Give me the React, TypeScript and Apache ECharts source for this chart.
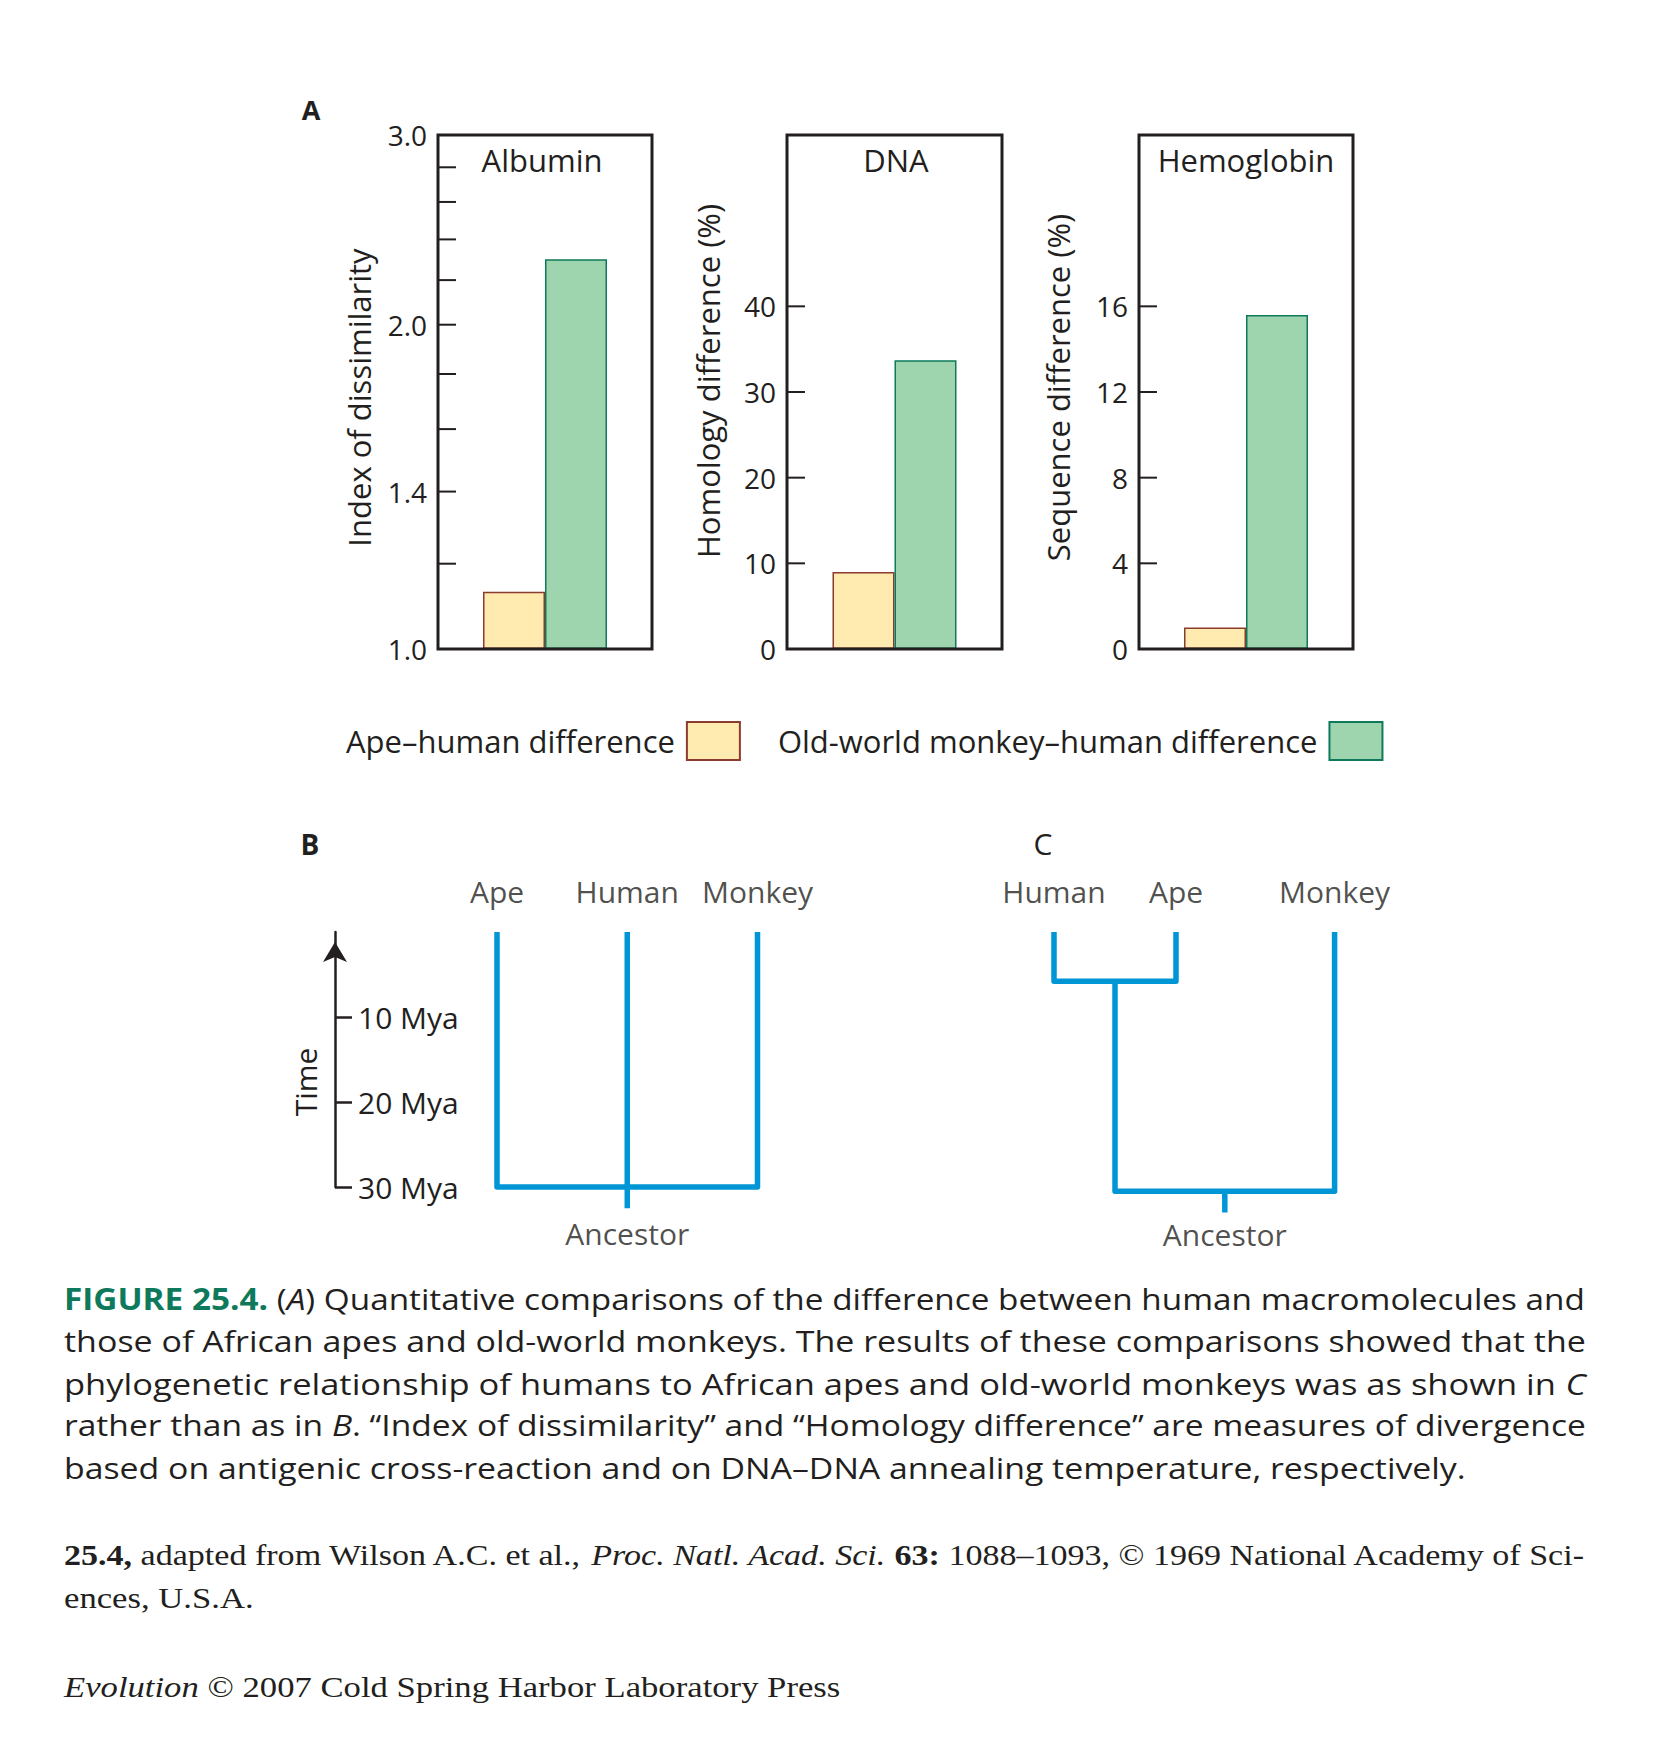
import React, { useEffect, useRef } from 'react';
import * as echarts from 'echarts';

const SANS = '"Open Sans", "DejaVu Sans", sans-serif';
const SERIF = '"Liberation Serif", "DejaVu Serif", serif';
const INK = '#231F20';
const BLUE = '#0096D6';
const FIG_GREEN = '#0E7A5B';
const APE_FILL = '#FFEBB0';
const APE_EDGE = '#8C3B2F';
const MONKEY_FILL = '#9ED4AE';
const MONKEY_EDGE = '#0E7A5B';

// ---------- Panel A: bar data ----------
const panelTitles = ['Albumin', 'DNA', 'Hemoglobin'];
const axisTitles = ['Index of dissimilarity', 'Homology difference (%)', 'Sequence difference (%)'];
const seriesNames = ['Ape–human difference', 'Old-world monkey–human difference'];
const apeHumanValues = [1.13, 9.0, 1.0];
const monkeyHumanValues = [2.3, 33.7, 15.6];
const axisMins = [1, 0, 0];
const axisMaxs = [3, 60, 24];
const albuminTickValues = [1.2, 1.4, 1.6, 1.8, 2.0, 2.2, 2.4, 2.6, 2.8];
const albuminLabelValues = [1.0, 1.4, 2.0, 3.0];
const dnaTickValues = [10, 20, 30, 40];
const dnaLabelValues = [0, 10, 20, 30, 40];
const hemoglobinTickValues = [4, 8, 12, 16];
const hemoglobinLabelValues = [0, 4, 8, 12, 16];

// ---------- Panels B and C: trees (time in Mya) ----------
const timeTickMya = [10, 20, 30];
const treeBLeaves = ['Ape', 'Human', 'Monkey'];
const treeBLeafOrder = [0, 1, 2];
const treeBSplitMya = 30;
const treeBStemEndMya = 32.5;
const treeCLeaves = ['Human', 'Ape', 'Monkey'];
const treeCLeafOrder = [0, 1, 2.3];
const treeCHumanApeSplitMya = 5.8;
const treeCRootSplitMya = 30.5;
const treeCStemEndMya = 33;

// ---------- Caption / credits ----------
type Seg = [string, string];
const captionLines: Seg[][] = [
  [['FIGURE 25.4.', 'fig'], [' (', ''], ['A', 'it'], [') Quantitative comparisons of the difference between human macromolecules and', '']],
  [['those of African apes and old-world monkeys. The results of these comparisons showed that the', '']],
  [['phylogenetic relationship of humans to African apes and old-world monkeys was as shown in ', ''], ['C', 'it']],
  [['rather than as in ', ''], ['B', 'it'], ['. “Index of dissimilarity” and “Homology difference” are measures of divergence', '']],
  [['based on antigenic cross-reaction and on DNA–DNA annealing temperature, respectively.', '']],
];
const footerLines: Seg[][] = [
  [['25.4,', 'b'], [' adapted from Wilson A.C. et al., ', ''], ['Proc. Natl. Acad. Sci.', 'it'], [' ', ''], ['63:', 'b'], [' 1088–1093, © 1969 National Academy of Sci-', '']],
  [['ences, U.S.A.', '']],
  [['Evolution', 'it'], [' © 2007 Cold Spring Harbor Laboratory Press', '']],
];

function measureSegs(ctx: CanvasRenderingContext2D, segs: Seg[], base: any, rich: any) {
  let w = 0;
  for (const [t, k] of segs) {
    const s = k ? rich[k] : base;
    ctx.font = `${s.fontStyle} ${s.fontWeight} ${s.fontSize}px ${s.fontFamily}`;
    w += ctx.measureText(t).width;
  }
  return w;
}
const richString = (segs: Seg[]) => segs.map(([t, k]) => (k ? `{${k}|${t}}` : t)).join('');

function buildOption() {
  const canvas = document.createElement('canvas');
  const ctx = canvas.getContext('2d') as CanvasRenderingContext2D;

  const barGrids = [
    { left: 438, width: 214 },
    { left: 787, width: 215 },
    { left: 1139, width: 214 },
  ];
  const BAR_TOP = 135;
  const BAR_H = 514;
  const nameGaps = [64, 64, 66];
  const namePads = [[0, 11, 0, 0], [0, 0, 0, 22], [0, 0, 0, 9]];
  const titleX = [542, 896, 1246];

  const tickSets = [
    { ticks: albuminTickValues, labels: albuminLabelValues, fmt: (v: number) => v.toFixed(1) },
    { ticks: dnaTickValues, labels: dnaLabelValues, fmt: (v: number) => String(v) },
    { ticks: hemoglobinTickValues, labels: hemoglobinLabelValues, fmt: (v: number) => String(v) },
  ];

  const grids: any[] = barGrids.map((g) => ({
    left: g.left, top: BAR_TOP, width: g.width, height: BAR_H,
    show: true, borderColor: INK, borderWidth: 3, backgroundColor: 'transparent', z: 3,
  }));
  const TREE_TOP = 932;
  const TREE_H = 255;
  grids.push({ left: 497, top: TREE_TOP, width: 260.5, height: TREE_H });
  grids.push({ left: 1054, top: TREE_TOP, width: 280.6, height: TREE_H });

  const xAxes: any[] = panelTitles.map((t, i) => ({
    gridIndex: i, type: 'category', data: [t], show: false,
  }));
  xAxes.push({ gridIndex: 3, type: 'value', min: 0, max: treeBLeafOrder[2], show: false });
  xAxes.push({ gridIndex: 4, type: 'value', min: 0, max: treeCLeafOrder[2], show: false });

  const yAxes: any[] = axisTitles.map((name, i) => ({
    gridIndex: i,
    type: i === 0 ? 'log' : 'value',
    logBase: 10,
    min: axisMins[i],
    max: axisMaxs[i],
    axisLine: { show: false },
    axisTick: { show: false },
    axisLabel: { show: false },
    splitLine: { show: false },
    name,
    nameLocation: 'middle',
    nameRotate: 90,
    nameGap: nameGaps[i],
    nameTextStyle: { fontFamily: SANS, fontSize: 31, color: INK, padding: namePads[i] },
  }));
  const timeVals = timeTickMya.map((t) => -t);
  yAxes.push({
    gridIndex: 3,
    type: 'value',
    min: -30,
    max: 0,
    interval: 10,
    position: 'left',
    offset: 162,
    axisLine: {
      show: true,
      onZero: false,
      lineStyle: { color: INK, width: 2.5 },
      symbol: ['none', 'arrow'],
      symbolSize: [18, 20],
      symbolOffset: [0, -10],
    },
    axisTick: { show: true, inside: true, length: 17, customValues: timeVals, lineStyle: { color: INK, width: 2.5 } },
    axisLabel: {
      show: true, inside: true, margin: 23, customValues: timeVals,
      formatter: (v: number) => (v === 0 ? '' : `${-v} Mya`),
      fontFamily: SANS, fontSize: 30, color: INK,
    },
    splitLine: { show: false },
    name: 'Time',
    nameLocation: 'middle',
    nameRotate: 90,
    nameGap: 15,
    nameTextStyle: { fontFamily: SANS, fontSize: 30, color: INK, padding: [0, 45, 0, 0] },
  });
  yAxes.push({ gridIndex: 4, type: 'value', min: -30, max: 0, show: false });

  const series: any[] = [];
  panelTitles.forEach((_, i) => {
    series.push({
      type: 'bar', name: seriesNames[0], xAxisIndex: i, yAxisIndex: i,
      data: [apeHumanValues[i]], barWidth: 62, barGap: '0%', z: 2,
      itemStyle: { color: APE_FILL, borderColor: APE_EDGE, borderWidth: 1.5 },
    });
    series.push({
      type: 'bar', name: seriesNames[1], xAxisIndex: i, yAxisIndex: i,
      data: [monkeyHumanValues[i]], barWidth: 62, barGap: '0%', z: 2,
      itemStyle: { color: MONKEY_FILL, borderColor: MONKEY_EDGE, borderWidth: 1.5 },
    });
    const set = tickSets[i];
    const rows = [
      ...set.ticks.map((v) => ({ v, text: null as string | null })),
      ...set.labels.map((v) => ({ v, text: set.fmt(v) })),
    ];
    series.push({
      type: 'custom', xAxisIndex: i, yAxisIndex: i, clip: false, silent: true, z: 5,
      data: rows.map((r) => [0, r.v]),
      renderItem: (params: any, api: any) => {
        const r = rows[params.dataIndex];
        const cs = params.coordSys;
        const y = api.coord([0, api.value(1)])[1];
        if (r.text == null) {
          return { type: 'line', shape: { x1: cs.x, y1: y, x2: cs.x + 18, y2: y }, style: { stroke: INK, lineWidth: 2 } };
        }
        return {
          type: 'text', x: cs.x - 11, y,
          style: {
            text: r.text, align: 'right', verticalAlign: 'middle', textAlign: 'right', textVerticalAlign: 'middle',
            fontFamily: SANS, fontSize: 28, fill: INK,
          },
        };
      },
    });
  });

  // ---- Tree B ----
  const [bL, bM, bR] = treeBLeafOrder;
  const bRoot = (bL + bR) / 2;
  const treeBPaths = [
    [[bL, 0], [bL, -treeBSplitMya], [bR, -treeBSplitMya], [bR, 0]],
    [[bM, 0], [bM, -treeBSplitMya]],
    [[bRoot, -treeBSplitMya], [bRoot, -treeBStemEndMya]],
  ];
  // ---- Tree C ----
  const [cH, cA, cM] = treeCLeafOrder;
  const cClade = (cH + cA) / 2;
  const cRoot = (cClade + cM) / 2;
  const treeCPaths = [
    [[cH, 0], [cH, -treeCHumanApeSplitMya], [cA, -treeCHumanApeSplitMya], [cA, 0]],
    [[cClade, -treeCHumanApeSplitMya], [cClade, -treeCRootSplitMya], [cM, -treeCRootSplitMya], [cM, 0]],
    [[cRoot, -treeCRootSplitMya], [cRoot, -treeCStemEndMya]],
  ];
  const treeLine = { color: BLUE, width: 5.5, cap: 'butt', join: 'round', opacity: 1, curveness: 0 };
  [
    { idx: 3, paths: treeBPaths, leaves: treeBLeaves, order: treeBLeafOrder, root: bRoot, stem: treeBStemEndMya, dist: 10 },
    { idx: 4, paths: treeCPaths, leaves: treeCLeaves, order: treeCLeafOrder, root: cRoot, stem: treeCStemEndMya, dist: 6 },
  ].forEach((t) => {
    series.push({
      type: 'lines', coordinateSystem: 'cartesian2d', xAxisIndex: t.idx, yAxisIndex: t.idx,
      polyline: true, clip: false, silent: true, z: 3,
      lineStyle: treeLine,
      data: t.paths.map((p) => ({ coords: p })),
    });
    series.push({
      type: 'scatter', xAxisIndex: t.idx, yAxisIndex: t.idx, clip: false, silent: true,
      symbolSize: 1, itemStyle: { color: 'rgba(0,0,0,0)' },
      data: t.leaves.map((n, j) => ({ name: n, value: [t.order[j], 0] })),
      label: { show: true, position: 'top', distance: 25.5, formatter: '{b}', fontFamily: SANS, fontSize: 30, color: INK },
    });
    series.push({
      type: 'scatter', xAxisIndex: t.idx, yAxisIndex: t.idx, clip: false, silent: true,
      symbolSize: 1, itemStyle: { color: 'rgba(0,0,0,0)' },
      data: [{ name: 'Ancestor', value: [t.root, -t.stem] }],
      label: { show: true, position: 'bottom', distance: t.dist, formatter: '{b}', fontFamily: SANS, fontSize: 30, color: INK },
    });
  });

  // ---- Caption & credits (justified by horizontal scale) ----
  const capBase = { fontSize: 30, fontFamily: SANS, fontWeight: 'normal', fontStyle: 'normal', fill: INK };
  const capRich: any = {
    fig: { ...capBase, fontWeight: 'bold', fill: FIG_GREEN },
    it: { ...capBase, fontStyle: 'italic' },
  };
  const capRight = [1586, 1586, 1586, 1586, 1466];
  const capY = [1298, 1340.5, 1382.5, 1424.5, 1467];
  const footBase = { fontSize: 30, fontFamily: SERIF, fontWeight: 'normal', fontStyle: 'normal', fill: INK };
  const footRich: any = {
    b: { ...footBase, fontWeight: 'bold' },
    it: { ...footBase, fontStyle: 'italic' },
  };
  const footY = [1555, 1598, 1686.5];
  const LEFT = 64;

  const graphics: any[] = [
    { type: 'text', x: 311, y: 109.5, style: { text: 'A', fontSize: 27, fontWeight: 'bold', fontFamily: SANS, fill: INK, align: 'center', verticalAlign: 'middle', textAlign: 'center', textVerticalAlign: 'middle' } },
    { type: 'text', x: 310, y: 844, style: { text: 'B', fontSize: 28, fontWeight: 'bold', fontFamily: SANS, fill: INK, align: 'center', verticalAlign: 'middle', textAlign: 'center', textVerticalAlign: 'middle' } },
    { type: 'text', x: 1043, y: 843.5, style: { text: 'C', fontSize: 30, fontFamily: SANS, fill: INK, align: 'center', verticalAlign: 'middle', textAlign: 'center', textVerticalAlign: 'middle' } },
  ];
  captionLines.forEach((segs, i) => {
    const w = measureSegs(ctx, segs, capBase, capRich);
    const sx = (capRight[i] - LEFT) / w;
    graphics.push({
      type: 'text', x: LEFT, y: capY[i], scaleX: sx,
      style: { ...capBase, text: richString(segs), rich: capRich, align: 'left', verticalAlign: 'middle', textAlign: 'left', textVerticalAlign: 'middle' },
    });
  });
  const footScale3 = (841 - LEFT) / measureSegs(ctx, footerLines[2], footBase, footRich);
  footerLines.forEach((segs, i) => {
    const w = measureSegs(ctx, segs, footBase, footRich);
    const sx = i === 0 ? (1586 - LEFT) / w : footScale3;
    graphics.push({
      type: 'text', x: LEFT, y: footY[i], scaleX: sx,
      style: { ...footBase, text: richString(segs), rich: footRich, align: 'left', verticalAlign: 'middle', textAlign: 'left', textVerticalAlign: 'middle' },
    });
  });

  return {
    animation: false,
    backgroundColor: '#ffffff',
    title: panelTitles.map((t, i) => ({
      text: t, left: titleX[i], top: 160, textAlign: 'center', textVerticalAlign: 'middle', padding: 0,
      textStyle: { fontFamily: SANS, fontSize: 31, fontWeight: 'normal', color: INK },
    })),
    legend: {
      data: seriesNames,
      left: 346, top: 721, padding: 0,
      align: 'right', icon: 'rect', itemWidth: 53, itemHeight: 38, itemGap: 37,
      selectedMode: false,
      itemStyle: { borderWidth: 2 },
      textStyle: { fontFamily: SANS, fontSize: 31, color: INK, padding: [0, 7, 0, 0] },
    },
    grid: grids,
    xAxis: xAxes,
    yAxis: yAxes,
    series,
    graphic: { elements: graphics },
  };
}

export default function App() {
  const ref = useRef<HTMLDivElement>(null);
  useEffect(() => {
    document.body.style.margin = '0';
    const chart = echarts.init(ref.current as HTMLDivElement, null, { renderer: 'svg', width: 1668, height: 1764 });
    chart.setOption(buildOption() as any);
    return () => chart.dispose();
  }, []);
  return <div ref={ref} style={{ width: 1668, height: 1764, background: '#ffffff' }} />;
}
